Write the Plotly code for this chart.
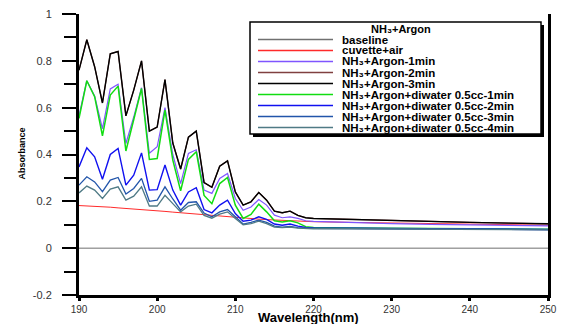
import plotly.graph_objects as go

# ---------------- data ----------------
wavelength = list(range(190, 221)) + [225, 230, 235, 240, 245, 250]

baseline = [0.0] * len(wavelength)

cuvette_air = [0.182, 0.181, 0.179, 0.177, 0.175, 0.172, 0.170, 0.167, 0.165, 0.163,
               0.160, 0.157, 0.154, 0.151, 0.148, 0.145, 0.142, 0.139, 0.136, 0.133,
               0.131, 0.128, 0.126, 0.124, 0.122, 0.120, 0.118, 0.116, 0.115, 0.114,
               0.113, 0.110, 0.107, 0.105, 0.102, 0.100, 0.098]

argon_1min = [0.565, 0.715, 0.650, 0.510, 0.680, 0.700, 0.447, 0.560, 0.685, 0.405,
              0.433, 0.600, 0.400, 0.276, 0.405, 0.420, 0.248, 0.234, 0.298, 0.319,
              0.212, 0.162, 0.176, 0.208, 0.184, 0.141, 0.130, 0.134, 0.127, 0.117,
              0.114, 0.108, 0.105, 0.102, 0.100, 0.097, 0.095]

argon_2min = [0.760, 0.890, 0.775, 0.620, 0.830, 0.840, 0.565, 0.675, 0.800, 0.500,
              0.517, 0.720, 0.449, 0.338, 0.474, 0.500, 0.280, 0.260, 0.350, 0.373,
              0.240, 0.184, 0.198, 0.238, 0.205, 0.158, 0.151, 0.158, 0.140, 0.130,
              0.127, 0.122, 0.118, 0.114, 0.110, 0.107, 0.104]

argon_3min = [0.760, 0.890, 0.775, 0.620, 0.830, 0.840, 0.565, 0.675, 0.800, 0.500,
              0.517, 0.720, 0.449, 0.338, 0.474, 0.500, 0.280, 0.260, 0.350, 0.373,
              0.240, 0.184, 0.198, 0.238, 0.205, 0.158, 0.151, 0.158, 0.140, 0.130,
              0.127, 0.122, 0.118, 0.114, 0.110, 0.107, 0.104]

diwater_1min = [0.554, 0.715, 0.647, 0.480, 0.654, 0.692, 0.415, 0.547, 0.682, 0.379,
                0.383, 0.590, 0.376, 0.245, 0.379, 0.412, 0.225, 0.190, 0.276, 0.302,
                0.184, 0.127, 0.144, 0.188, 0.155, 0.117, 0.112, 0.117, 0.108, 0.092,
                0.088, 0.086, 0.085, 0.084, 0.083, 0.082, 0.081]

diwater_2min = [0.347, 0.429, 0.390, 0.294, 0.400, 0.426, 0.269, 0.312, 0.407, 0.248,
                0.250, 0.355, 0.248, 0.184, 0.240, 0.258, 0.165, 0.151, 0.184, 0.205,
                0.148, 0.115, 0.120, 0.134, 0.123, 0.103, 0.098, 0.103, 0.094, 0.088,
                0.086, 0.085, 0.084, 0.083, 0.082, 0.081, 0.080]

diwater_3min = [0.269, 0.305, 0.283, 0.241, 0.291, 0.302, 0.231, 0.255, 0.298, 0.200,
                0.205, 0.262, 0.210, 0.162, 0.195, 0.198, 0.150, 0.134, 0.155, 0.165,
                0.134, 0.103, 0.110, 0.120, 0.110, 0.094, 0.090, 0.093, 0.088, 0.086,
                0.085, 0.084, 0.083, 0.082, 0.081, 0.080, 0.079]

diwater_4min = [0.236, 0.265, 0.248, 0.212, 0.252, 0.262, 0.205, 0.222, 0.262, 0.180,
                0.180, 0.226, 0.190, 0.155, 0.180, 0.188, 0.140, 0.128, 0.145, 0.155,
                0.127, 0.100, 0.105, 0.115, 0.105, 0.090, 0.088, 0.090, 0.086, 0.084,
                0.083, 0.083, 0.082, 0.081, 0.080, 0.079, 0.078]

series_names = ["baseline", "cuvette+air", "NH₃+Argon-1min",
                "NH₃+Argon-2min", "NH₃+Argon-3min",
                "NH₃+Argon+diwater 0.5cc-1min",
                "NH₃+Argon+diwater 0.5cc-2min",
                "NH₃+Argon+diwater 0.5cc-3min",
                "NH₃+Argon+diwater 0.5cc-4min"]
series_values = [baseline, cuvette_air, argon_1min, argon_2min, argon_3min,
                 diwater_1min, diwater_2min, diwater_3min, diwater_4min]
series_colors = ["#707070", "#ff2a2a", "#7f55ff", "#804040", "#000000",
                 "#11dd11", "#1010f0", "#2255aa", "#4f7a85"]
series_widths = [1, 1, 1.2, 1.2, 1.4, 1.5, 1.4, 1.3, 1.3]

legend_title = "NH₃+Argon"

y_tickvals = [-0.2, 0, 0.2, 0.4, 0.6, 0.8, 1]
y_ticktext = ["-0.2", "0", "0.2", "0.4", "0.6", "0.8", "1"]
y_minorvals = [-0.1, 0.1, 0.3, 0.5, 0.7, 0.9]
x_tickvals = [190, 200, 210, 220, 230, 240, 250]

# ---------------- layout geometry ----------------
W, H = 561, 324
PLOT_L, PLOT_R, PLOT_T, PLOT_B = 79, 548, 14, 295   # page pixels
ML, MT = PLOT_L, PLOT_T
PW, PH = PLOT_R - PLOT_L, PLOT_B - PLOT_T
MR, MB = W - ML - PW, H - MT - PH


def px(xp):
    return (xp - PLOT_L) / PW


def py(yp):
    return (PLOT_B - yp) / PH


FONT = "Arial, Liberation Sans, sans-serif"

fig = go.Figure()
for name, vals, col, lw in zip(series_names, series_values, series_colors, series_widths):
    fig.add_trace(go.Scatter(x=wavelength, y=vals, mode="lines", name=name,
                             line=dict(color=col, width=lw), showlegend=False))

shapes = []
annotations = []
# legend box with shadow
shapes.append(dict(type="rect", xref="paper", yref="paper",
                   x0=px(253), x1=px(544), y0=py(137), y1=py(25),
                   fillcolor="black", line=dict(width=0), layer="above"))
shapes.append(dict(type="rect", xref="paper", yref="paper",
                   x0=px(250), x1=px(541), y0=py(134), y1=py(22),
                   fillcolor="white", line=dict(color="black", width=1.5), layer="above"))
annotations.append(dict(xref="paper", yref="paper", x=px(401), y=py(28.5),
                        text="<b>" + legend_title + "</b>", showarrow=False,
                        xanchor="center", yanchor="middle",
                        font=dict(family=FONT, size=11, color="black")))
for i, (name, col) in enumerate(zip(series_names, series_colors)):
    yy = 39.5 + 11 * i
    shapes.append(dict(type="line", xref="paper", yref="paper",
                       x0=px(258), x1=px(333), y0=py(yy), y1=py(yy),
                       line=dict(color=col, width=1.3), layer="above"))
    annotations.append(dict(xref="paper", yref="paper", x=px(340), y=py(yy),
                            text="<b>" + name + "</b>", showarrow=False,
                            xanchor="left", yanchor="middle",
                            font=dict(family=FONT, size=11.5, color="black")))

# axis titles
annotations.append(dict(xref="paper", yref="paper", x=px(21.5), y=py(154),
                        text="<b>Absorbance</b>", textangle=-90, showarrow=False,
                        xanchor="center", yanchor="middle",
                        font=dict(family=FONT, size=9, color="black")))
annotations.append(dict(xref="paper", yref="paper", x=px(308), y=py(317.5),
                        text="<b>Wavelength(nm)</b>", showarrow=False,
                        xanchor="center", yanchor="middle",
                        font=dict(family=FONT, size=13, color="black")))

fig.update_layout(
    width=W, height=H,
    margin=dict(l=ML, r=MR, t=MT, b=MB, pad=0, autoexpand=False),
    paper_bgcolor="white", plot_bgcolor="white",
    showlegend=False,
    shapes=shapes, annotations=annotations,
    font=dict(family=FONT, size=11, color="#333333"),
)
fig.update_xaxes(range=[190, 250], showgrid=False, zeroline=False, automargin=False,
                 showline=True, linecolor="black", linewidth=3,
                 ticks="outside", ticklen=3, tickwidth=3, tickcolor="black",
                 ticklabeloverflow="allow",
                 tickvals=x_tickvals, tickfont=dict(size=10, color="#333333"))
fig.update_yaxes(range=[-0.2, 1], showgrid=False, zeroline=False, automargin=False,
                 showline=True, linecolor="black", linewidth=3, mirror=True,
                 ticks="outside", ticklen=14, tickwidth=2, tickcolor="black",
                 tickvals=y_tickvals, ticktext=y_ticktext,
                 ticklabelstandoff=8, ticklabeloverflow="allow",
                 minor=dict(tickvals=y_minorvals, ticks="outside", ticklen=12,
                            tickwidth=2, tickcolor="black"),
                 tickfont=dict(size=11, color="#333333"))

fig.write_html("out.html",
               config={"displayModeBar": False},
               post_script="document.body.style.margin='0px';"
                           "document.body.style.overflow='hidden';")
